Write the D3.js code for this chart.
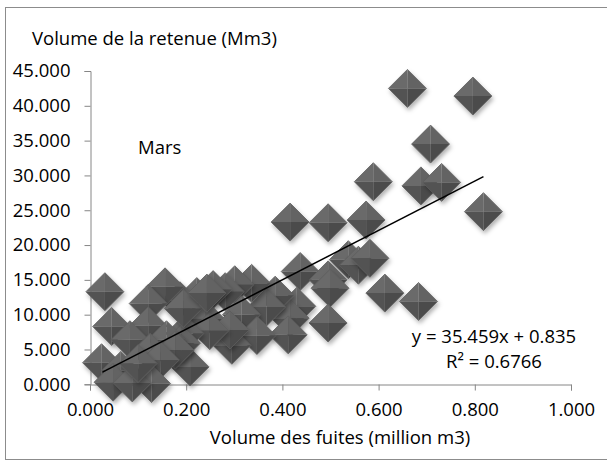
<!DOCTYPE html>
<html>
<head>
<meta charset="utf-8">
<script src="https://cdn.jsdelivr.net/npm/d3@7"></script>
<style>
  html, body { margin: 0; padding: 0; background: #fff; }
  svg { display: block; }
  text { font-family: "Open Sans", "Noto Sans", sans-serif; fill: #000; }
</style>
</head>
<body>
<script>
// ---- data ----
const xValues = [0.660, 0.796, 0.708, 0.589, 0.688, 0.731, 0.818,
  0.416, 0.495, 0.574,
  0.537, 0.558, 0.582, 0.437, 0.495, 0.499,
  0.613, 0.683, 0.495, 0.430, 0.416, 0.412,
  0.385, 0.367, 0.336, 0.301, 0.281, 0.256, 0.222, 0.187,
  0.315, 0.239, 0.347, 0.295, 0.291, 0.249, 0.197,
  0.208, 0.190,
  0.031, 0.156, 0.121, 0.194, 0.045, 0.121, 0.159, 0.083,
  0.177, 0.125, 0.146, 0.024, 0.064, 0.048, 0.128, 0.088, 0.100, 0.243];
const yValues = [42.5, 41.4, 34.5, 29.1, 28.5, 29.0, 24.8,
  23.3, 23.2, 23.6,
  17.9, 17.1, 18.1, 16.2, 15.0, 13.8,
  13.1, 11.9, 8.8, 11.2, 9.5, 7.1,
  12.8, 11.1, 14.5, 14.3, 13.3, 13.6, 12.6, 12.0,
  10.0, 9.5, 7.0, 5.6, 7.8, 7.7, 7.3,
  2.5, 5.9,
  13.3, 14.0, 11.6, 10.9, 8.3, 8.4, 6.4, 6.4,
  4.9, 4.6, 3.5, 3.1, 2.0, 0.3, 0.1, 0.2, 3.0, 13.1];
const xTicks = [0, 0.2, 0.4, 0.6, 0.8, 1.0];
const yTicks = [0, 5, 10, 15, 20, 25, 30, 35, 40, 45];
const trendSlope = 35.459;
const trendIntercept = 0.835;
const trendRange = [0.026, 0.818];
const yTitle = "Volume de la retenue (Mm3)";
const xTitle = "Volume des fuites (million m3)";
const seriesLabel = "Mars";
const eqLabel = "y = 35.459x + 0.835";
const r2Label = "R² = 0.6766";

// ---- drawing ----
const W = 607, H = 461;
const FS = "18.5px";
const svg = d3.select("body").append("svg").attr("width", W).attr("height", H);

const defs = svg.append("defs");
const f = defs.append("filter").attr("id", "shadow")
  .attr("x", "-30%").attr("y", "-30%").attr("width", "160%").attr("height", "170%");
f.append("feDropShadow").attr("dx", 1.5).attr("dy", 3).attr("stdDeviation", 2)
  .attr("flood-color", "#000").attr("flood-opacity", 0.3);

// outer frame
svg.append("rect").attr("x", 5.5).attr("y", 7.5).attr("width", 620).attr("height", 452)
  .attr("fill", "none").attr("stroke", "#8c8c8c").attr("stroke-width", 1);

const x = d3.scaleLinear().domain([0, 1]).range([90, 571]);
const y = d3.scaleLinear().domain([0, 45]).range([384.3, 71]);

const axisColor = "#868686";
const fmt = d3.format(".3f");

const gx = svg.append("g").attr("transform", "translate(0,384.5)")
  .call(d3.axisBottom(x).tickValues(xTicks).tickFormat(fmt).tickSize(6).tickPadding(12));
const gy = svg.append("g").attr("transform", "translate(90.5,0)")
  .call(d3.axisLeft(y).tickValues(yTicks).tickFormat(fmt).tickSize(6).tickPadding(14));
[gx, gy].forEach(g => {
  g.select(".domain").attr("stroke", axisColor);
  g.selectAll(".tick line").attr("stroke", axisColor);
  g.selectAll(".tick text").style("font-family", "'Open Sans', sans-serif").style("font-size", FS).attr("fill", "#000");
});

// points
const pts = xValues.map((v, i) => ({ x: v, y: yValues[i] }));
const r = 19;
const g = svg.append("g");
const m = g.selectAll("g.pt").data(pts).join("g")
  .attr("class", "pt")
  .attr("transform", d => `translate(${x(d.x)},${y(d.y)})`)
  .attr("filter", "url(#shadow)");
m.append("path").attr("d", `M0,${-r}L${-r},0L0,0Z`).attr("fill", "#6a6a6a");
m.append("path").attr("d", `M0,${-r}L${r},0L0,0Z`).attr("fill", "#646464");
m.append("path").attr("d", `M${-r},0L0,${r}L0,0Z`).attr("fill", "#525252");
m.append("path").attr("d", `M${r},0L0,${r}L0,0Z`).attr("fill", "#4c4c4c");
m.append("path").attr("d", `M0,${-r}L${r},0L0,${r}L${-r},0Z`).attr("fill", "none")
  .attr("stroke", "#5e5e5e").attr("stroke-width", 0.8);

// trendline
svg.append("line")
  .attr("x1", x(trendRange[0])).attr("y1", y(trendSlope * trendRange[0] + trendIntercept))
  .attr("x2", x(trendRange[1])).attr("y2", y(trendSlope * trendRange[1] + trendIntercept))
  .attr("stroke", "#000").attr("stroke-width", 1.5);

// texts
svg.append("text").attr("x", 32).attr("y", 45).style("font-size", FS).text(yTitle);
svg.append("text").attr("x", 340).attr("y", 444).attr("text-anchor", "middle").style("font-size", FS).text(xTitle);
svg.append("text").attr("x", 138).attr("y", 154).style("font-size", FS).text(seriesLabel);
svg.append("text").attr("x", 494).attr("y", 343).attr("text-anchor", "middle").style("font-size", FS).text(eqLabel);
svg.append("text").attr("x", 494).attr("y", 368).attr("text-anchor", "middle").style("font-size", FS).text(r2Label);
</script>
</body>
</html>
